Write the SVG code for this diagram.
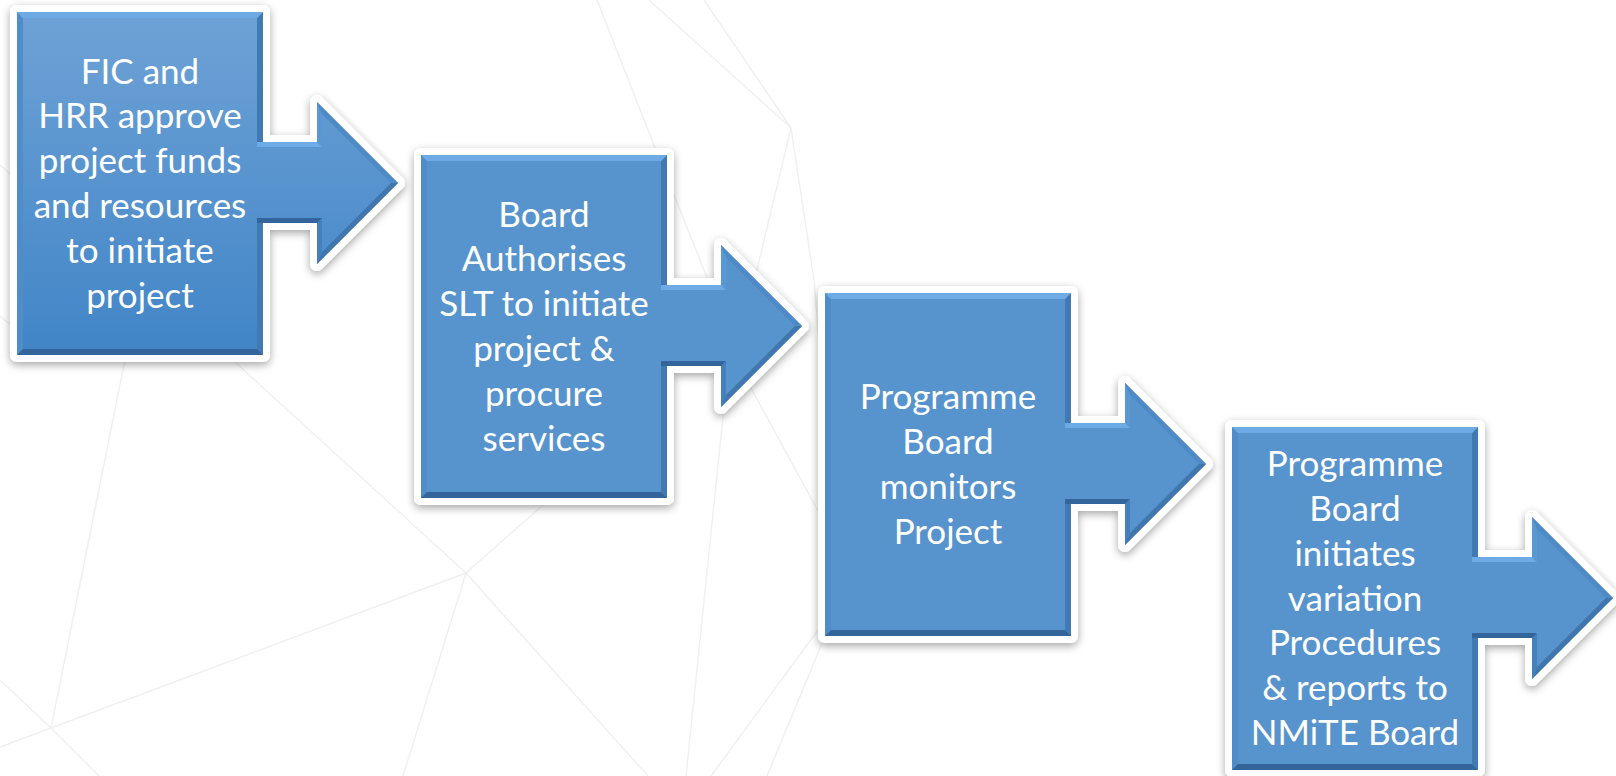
<svg xmlns="http://www.w3.org/2000/svg" xmlns:xlink="http://www.w3.org/1999/xlink" width="1616" height="776" viewBox="0 0 1616 776">
<style>
.bg{fill:none;stroke:#f0f0f0;stroke-width:1.4}
.frame{fill:#ffffff;stroke:#ffffff;stroke-width:14;stroke-linejoin:round;filter:url(#shadow)}
.body{fill:#5794ce}
.body1{fill:url(#grad1)}
.lbl{font-family:Lato,"Liberation Sans",sans-serif;font-size:35px;fill:#ffffff;text-anchor:middle}
.bvT{fill:#6eabe5}
.bvL{fill:#4f8cc8}
.bvR{fill:#4179b2}
.bvB{fill:#33649a}
.aAB{fill:#6dabe6}
.aBC{fill:#5a98d3}
.aCD{fill:#4e8ac6}
.aDE{fill:#3f76ae}
.aEF{fill:#4680ba}
.aFG{fill:#33649a}
</style>
<defs>
<filter id="shadow" x="-20%" y="-20%" width="140%" height="140%">
<feDropShadow dx="0" dy="3" stdDeviation="4" flood-color="#000000" flood-opacity="0.35"/>
</filter>
<linearGradient id="grad1" gradientUnits="userSpaceOnUse" x1="0" y1="0" x2="0" y2="343">
<stop offset="0" stop-color="#6ea2d6"/>
<stop offset="1" stop-color="#4185c7"/>
</linearGradient>
<path id="outline" d="M0,0 H246 V130 H300 V90 L381,171 L300,252 V211 H246 V343 H0 Z"/>
<path id="arrowShape" d="M240,130 H300 V90 L381,171 L300,252 V211 H240 Z"/>
<g id="rectBevel">
<polygon class="bvL" points="0,0 6,6 6,337 0,343"/>
<polygon class="bvR" points="246,0 240,6 240,337 246,343"/>
<polygon class="bvT" points="0,0 246,0 240,6 6,6"/>
<polygon class="bvB" points="0,343 246,343 240,337 6,337"/>
</g>
<g id="arrowBevel">
<polygon class="aAB" points="240,130 300,130 305,135 240,135"/>
<polygon class="aBC" points="300,130 300,90 305,102.07 305,135"/>
<polygon class="aCD" points="300,90 381,171 373.93,171 305,102.07"/>
<polygon class="aDE" points="381,171 300,252 305,239.93 373.93,171"/>
<polygon class="aEF" points="300,252 300,211 305,206 305,239.93"/>
<polygon class="aFG" points="300,211 240,211 240,206 305,206"/>
</g>
</defs>
<rect width="1616" height="776" fill="#ffffff"/>
<g id="background">
<path class="bg" d="M649,0 L791,128"/>
<path class="bg" d="M704,0 L791,128"/>
<path class="bg" d="M597,0 L652,140 L752,390 L823,520"/>
<path class="bg" d="M791,128 L724,407 L686,776"/>
<path class="bg" d="M791,128 L814,280 L840,600"/>
<path class="bg" d="M840,600 L711,776"/>
<path class="bg" d="M840,600 L767,776"/>
<path class="bg" d="M466,573 L235,362"/>
<path class="bg" d="M466,573 L560,490"/>
<path class="bg" d="M466,573 L51,728"/>
<path class="bg" d="M466,573 L648,776"/>
<path class="bg" d="M466,573 L403,776"/>
<path class="bg" d="M51,728 L125,360"/>
<path class="bg" d="M51,728 L99,776"/>
<path class="bg" d="M51,728 L0,747"/>
<path class="bg" d="M51,728 L0,680"/>
<path class="bg" d="M0,165 L17,180"/>
<path class="bg" d="M0,316 L17,330"/>
</g>
<g id="node1" transform="translate(17,12)">
<use href="#outline" class="frame"/>
<rect class="body1" width="246" height="343"/>
<use href="#rectBevel"/>
<text class="lbl"><tspan x="123" y="71.5">FIC and</tspan><tspan x="123" y="116.3">HRR approve</tspan><tspan x="123" y="161.1">project funds</tspan><tspan x="123" y="205.9">and resources</tspan><tspan x="123" y="250.7">to initiate</tspan><tspan x="123" y="295.5">project</tspan></text>
</g>
<g id="node2" transform="translate(421,155)">
<use href="#outline" class="frame"/>
<rect class="body" width="246" height="343"/>
<use href="#rectBevel"/>
<text class="lbl"><tspan x="123" y="71.5">Board</tspan><tspan x="123" y="116.3">Authorises</tspan><tspan x="123" y="161.1">SLT to initiate</tspan><tspan x="123" y="205.9">project &amp;</tspan><tspan x="123" y="250.7">procure</tspan><tspan x="123" y="295.5">services</tspan></text>
</g>
<g id="node3" transform="translate(825,293)">
<use href="#outline" class="frame"/>
<rect class="body" width="246" height="343"/>
<use href="#rectBevel"/>
<text class="lbl"><tspan x="123" y="116.3">Programme</tspan><tspan x="123" y="161.1">Board</tspan><tspan x="123" y="205.9">monitors</tspan><tspan x="123" y="250.7">Project</tspan></text>
</g>
<g id="node4" transform="translate(1232,427)">
<use href="#outline" class="frame"/>
<rect class="body" width="246" height="343"/>
<use href="#rectBevel"/>
<text class="lbl"><tspan x="123" y="49.1">Programme</tspan><tspan x="123" y="93.9">Board</tspan><tspan x="123" y="138.7">initiates</tspan><tspan x="123" y="183.5">variation</tspan><tspan x="123" y="228.3">Procedures</tspan><tspan x="123" y="273.1">&amp; reports to</tspan><tspan x="123" y="317.9">NMiTE Board</tspan></text>
</g>
<g id="connectors">
<g id="arrow1" transform="translate(17,12)">
<use href="#arrowShape" class="body1"/>
<use href="#arrowBevel"/>
</g>
<g id="arrow2" transform="translate(421,155)">
<use href="#arrowShape" class="body"/>
<use href="#arrowBevel"/>
</g>
<g id="arrow3" transform="translate(825,293)">
<use href="#arrowShape" class="body"/>
<use href="#arrowBevel"/>
</g>
<g id="arrow4" transform="translate(1232,427)">
<use href="#arrowShape" class="body"/>
<use href="#arrowBevel"/>
</g>
</g>
</svg>
